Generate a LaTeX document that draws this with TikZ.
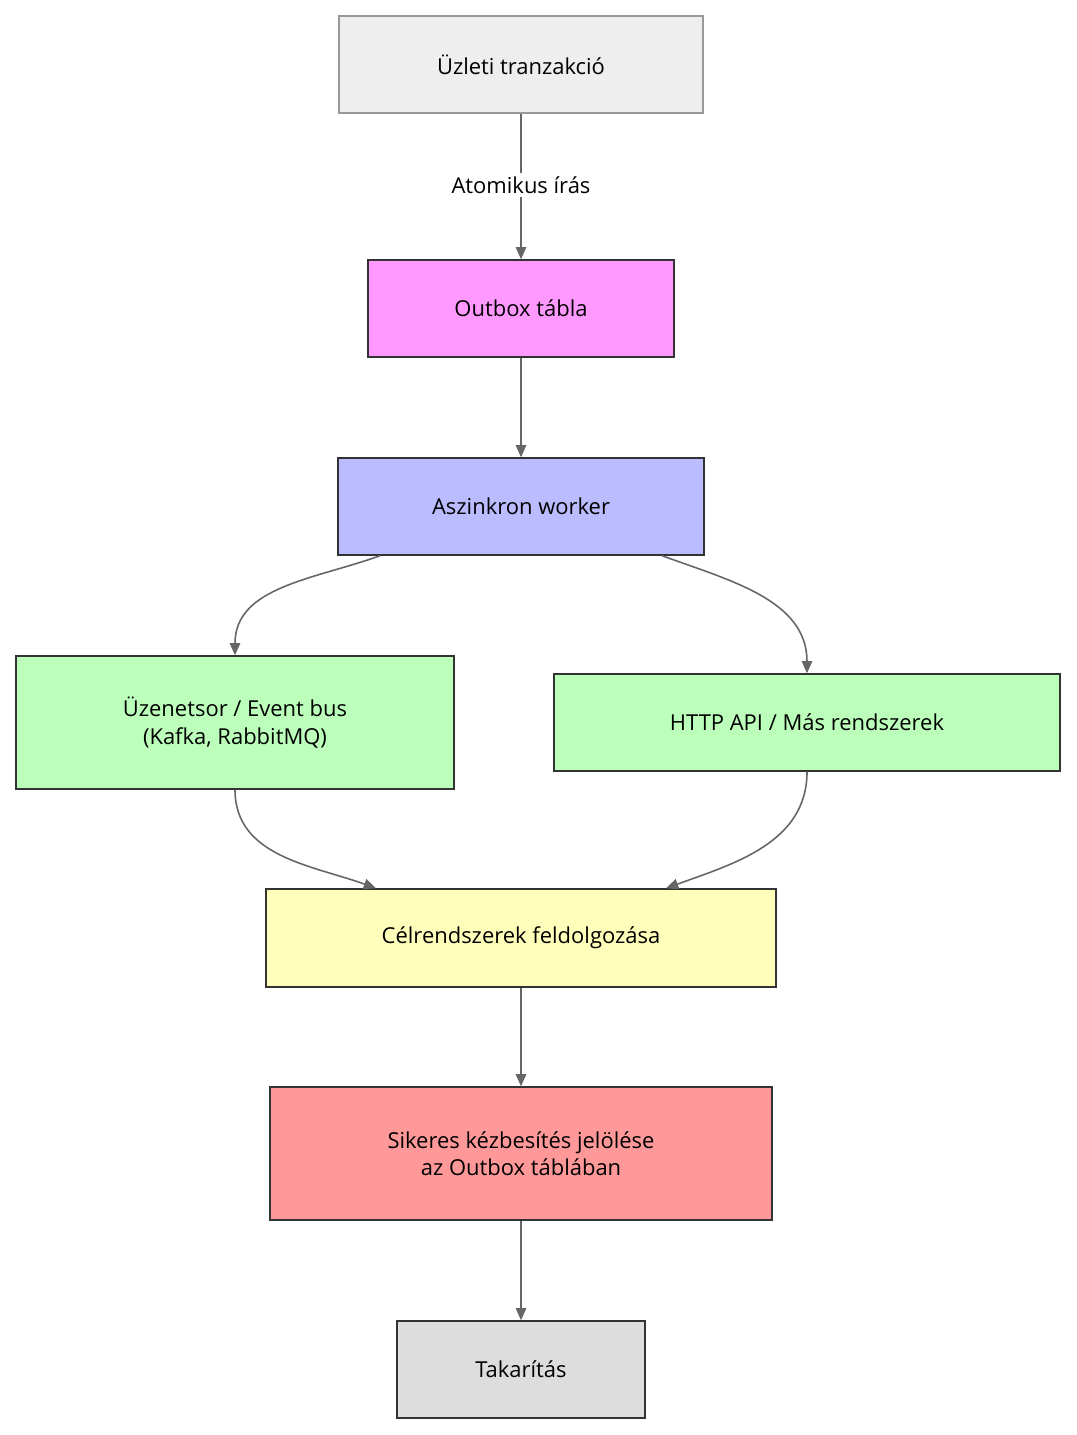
\documentclass[tikz,border=0pt]{standalone}
\usepackage{fontspec}
\setmainfont{Open Sans}
\usetikzlibrary{arrows.meta}
\definecolor{ln}{HTML}{666666}
\definecolor{bd}{HTML}{333333}
\begin{document}
\begin{tikzpicture}[x=0.02cm,y=-0.02cm,
 box/.style={draw=bd,line width=0.8pt,minimum height=1.94cm,align=center,font=\fontsize{12.5}{15.5}\selectfont,inner sep=0pt},
 arr/.style={draw=ln,line width=0.9pt,-{Triangle[length=7pt,width=6pt]}}]
\useasboundingbox (0,0) rectangle (1077,1435);
\node[box,fill={rgb,255:red,238;green,238;blue,238},draw={rgb,255:red,153;green,153;blue,153},minimum width=7.28cm] (a) at (521,64.5) {Üzleti tranzakció};
\node[box,fill={rgb,255:red,255;green,153;blue,255},minimum width=6.12cm] (b) at (521,308.5) {Outbox tábla};
\node[box,fill={rgb,255:red,187;green,187;blue,255},minimum width=7.32cm] (c) at (521,506.5) {Aszinkron worker};
\node[box,fill={rgb,255:red,187;green,255;blue,187},minimum width=8.76cm,minimum height=2.66cm] (d) at (235,722.5) {Üzenetsor / Event bus\\(Kafka, RabbitMQ)};
\node[box,fill={rgb,255:red,187;green,255;blue,187},minimum width=10.12cm] (e) at (807,722.5) {HTTP API / Más rendszerek};
\node[box,fill={rgb,255:red,255;green,255;blue,187},minimum width=10.2cm,minimum height=1.96cm] (f) at (521,938) {Célrendszerek feldolgozása};
\node[box,fill={rgb,255:red,255;green,153;blue,153},minimum width=10.04cm,minimum height=2.66cm] (g) at (521,1153.5) {Sikeres kézbesítés jelölése\\az Outbox táblában};
\node[box,fill={rgb,255:red,221;green,221;blue,221},minimum width=4.96cm] (h) at (521,1369.5) {Takarítás};
\draw[arr] (a.south) -- (b.north) node[pos=0.49,fill=white,inner sep=2pt,font=\fontsize{12.5}{15}\selectfont] {Atomikus írás};
\draw[arr] (b) -- (c);
\draw[arr] ([xshift=-2.82cm]c.south) to[out=-160,in=90] (d.north);
\draw[arr] ([xshift=2.82cm]c.south) to[out=-20,in=90] (e.north);
\draw[arr] (d.south) to[out=-90,in=160] ([xshift=-2.9cm]f.north);
\draw[arr] (e.south) to[out=-90,in=20] ([xshift=2.9cm]f.north);
\draw[arr] (f) -- (g);
\draw[arr] (g) -- (h);
\end{tikzpicture}
\end{document}
